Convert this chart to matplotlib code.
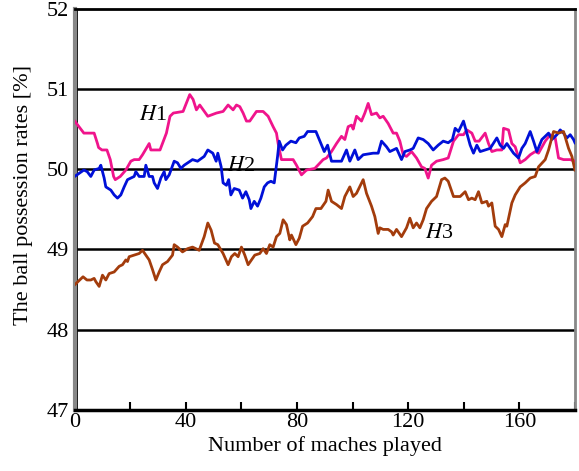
import matplotlib.pyplot as plt

plt.rcParams['font.family'] = 'Liberation Serif'
plt.rcParams['mathtext.fontset'] = 'stix'

# H1 (pink)
h1_x = [0, 3.3, 7, 8.2, 8.6, 9.8, 11.6, 12.8, 14, 14.6, 16.4, 18.4, 20.2, 21.4, 23.2, 24.4,
        26.8, 27.4, 30.7, 33, 34.3, 35.5, 39, 41.4, 42.6, 43.8, 45, 47.9, 51, 53.4, 55.2,
        57, 58.2, 59.4, 60.6, 61.8, 63, 65.4, 67.8, 69.6, 71.4, 72.6, 73.2, 74.4, 76.2,
        78.6, 79.8, 81.6, 83.4, 86.4, 89.4, 90.6, 92.4, 94.2, 96, 97.2, 98.4, 99.6, 100.2,
        101.4, 103.2, 104.4, 105.6, 106.8, 108.6, 109.8, 111, 112.8, 114.6, 115.8, 117,
        118.2, 119.4, 121.2, 123, 124.8, 126, 127.2, 128.4, 130.2, 132.6, 134.4, 136.3,
        138.1, 139.9, 141.1, 142.9, 144.1, 145.5, 147.7, 148.9, 150.1, 151.9, 153.7, 154.3,
        156.1, 157.3, 158.5, 160.3, 162.1, 163.9, 165.7, 166.9, 169.3, 171.1, 172.9, 174.1,
        175.9, 178.3, 180]
h1_y = [50.60, 50.45, 50.45, 50.32, 50.27, 50.24, 50.24, 50.12, 49.91, 49.87, 49.91, 49.99,
        50.10, 50.12, 50.12, 50.18, 50.32, 50.24, 50.24, 50.45, 50.66, 50.70, 50.72, 50.93,
        50.87, 50.74, 50.80, 50.66, 50.70, 50.72, 50.80, 50.74, 50.80, 50.78, 50.70, 50.60,
        50.60, 50.72, 50.72, 50.66, 50.53, 50.45, 50.32, 50.12, 50.12, 50.12, 50.05, 49.93,
        49.99, 50.01, 50.12, 50.14, 50.22, 50.32, 50.41, 50.37, 50.53, 50.55, 50.50, 50.66,
        50.60, 50.70, 50.82, 50.68, 50.70, 50.64, 50.66, 50.57, 50.45, 50.45, 50.35, 50.18,
        50.16, 50.22, 50.14, 50.03, 50.01, 49.89, 50.05, 50.10, 50.12, 50.14, 50.35, 50.43,
        50.43, 50.49, 50.45, 50.35, 50.35, 50.45, 50.32, 50.22, 50.24, 50.24, 50.51, 50.49,
        50.32, 50.28, 50.08, 50.12, 50.18, 50.22, 50.20, 50.35, 50.43, 50.39, 50.14, 50.12,
        50.12, 50.10]

# H2 (blue)
h2_x = [0, 3.3, 4.5, 5.8, 7, 8.8, 9.4, 10.6, 11.2, 13, 14.2, 15.4, 16.6, 17.8, 19, 20.2,
        21.4, 22, 23.2, 25, 25.6, 26.8, 28, 28.6, 29.8, 31, 32.2, 32.8, 34, 35.8, 37, 38.2,
        39.4, 42.4, 44.2, 46.6, 47.9, 49.7, 50.9, 51.5, 52.7, 53.4, 54.6, 55.4, 56.2, 57.4,
        59.2, 60.4, 61.6, 62.8, 63.4, 64.6, 65.8, 67, 68.2, 69.4, 70.6, 71.8, 73, 73.6, 74.8,
        76, 77.8, 79.6, 80.8, 82.6, 83.8, 86.8, 88, 89.8, 91, 92.4, 94.2, 96, 97.8, 99, 100.8,
        102, 103.8, 107.4, 109.2, 110.4, 112.2, 113.4, 115.8, 117.6, 118.8, 120.6, 121.8,
        123.6, 125.4, 127.2, 129, 130.8, 132.6, 134.4, 135.9, 136.9, 138.1, 139.9, 141.1,
        142.3, 143.5, 144.7, 145.9, 147.7, 149.5, 151.9, 153.1, 154.3, 155.5, 157.9, 159.7,
        160.9, 162.1, 163.9, 165.1, 166.3, 168.1, 170.5, 171.7, 173.5, 174.7, 175.9, 177.1,
        178.3, 179.5, 180]
h2_y = [49.91, 49.99, 49.97, 49.91, 49.99, 50.01, 50.05, 49.89, 49.78, 49.74, 49.68, 49.64,
        49.68, 49.78, 49.87, 49.89, 49.91, 49.97, 49.91, 49.91, 50.05, 49.91, 49.91, 49.83,
        49.76, 49.89, 49.97, 49.87, 49.93, 50.10, 50.08, 50.01, 50.05, 50.12, 50.10, 50.16,
        50.24, 50.20, 50.10, 50.20, 50.03, 49.83, 49.80, 49.87, 49.68, 49.76, 49.74, 49.64,
        49.72, 49.62, 49.51, 49.60, 49.54, 49.64, 49.78, 49.83, 49.85, 49.83, 50.16, 50.35,
        50.24, 50.30, 50.35, 50.33, 50.39, 50.41, 50.47, 50.47, 50.37, 50.22, 50.30, 50.10,
        50.10, 50.10, 50.24, 50.10, 50.24, 50.12, 50.18, 50.20, 50.20, 50.35, 50.28, 50.22,
        50.26, 50.12, 50.22, 50.24, 50.26, 50.39, 50.37, 50.32, 50.24, 50.30, 50.35, 50.33,
        50.37, 50.51, 50.47, 50.60, 50.45, 50.30, 50.20, 50.30, 50.22, 50.24, 50.26, 50.39,
        50.30, 50.26, 50.32, 50.20, 50.14, 50.26, 50.32, 50.47, 50.35, 50.22, 50.37, 50.45,
        50.37, 50.43, 50.49, 50.45, 50.39, 50.43, 50.37, 50.33]

# H3 (brown)
h3_x = [0, 3, 4.4, 5.8, 7, 7.6, 8.8, 10, 11.2, 12.4, 14.2, 16, 17.2, 18.4, 19, 19.6, 21.4,
        23.2, 24.4, 25.6, 26.8, 28, 29.2, 30.4, 31.6, 33.4, 35.2, 35.8, 37, 38.8, 40.6, 42.4,
        44.8, 46.6, 47.9, 49.1, 50.3, 51.5, 53.4, 55.2, 56.4, 57.6, 58.8, 60, 61.2, 62.4,
        63.6, 64.8, 66.6, 67.8, 69, 70.2, 71.4, 72.6, 73.8, 75, 76.2, 77.4, 78, 79.6, 80.8,
        82, 83.8, 85.6, 86.8, 88.6, 90.4, 91.2, 92.4, 94.2, 96, 97.2, 99, 100.2, 101.4, 103.8,
        105, 106.8, 108, 109.2, 109.8, 111, 112.8, 114, 114.6, 115.8, 117.6, 119.4, 120.6,
        121.8, 123, 124.2, 125.4, 126.6, 128.4, 130.2, 132, 133.2, 134.4, 136.3, 138.7,
        140.5, 141.7, 142.9, 144.1, 145.3, 146.5, 148.3, 148.9, 150.1, 151.3, 152.5, 153.7,
        154.9, 155.5, 157.3, 158.5, 160.3, 162.1, 163.9, 165.7, 166.9, 169.3, 170.5, 172.3,
        174.1, 175.9, 177.7, 178.9, 180]
h3_y = [48.56, 48.66, 48.62, 48.62, 48.64, 48.60, 48.54, 48.68, 48.62, 48.70, 48.72, 48.79,
        48.81, 48.87, 48.85, 48.91, 48.93, 48.95, 48.99, 48.93, 48.87, 48.75, 48.62, 48.72,
        48.81, 48.85, 48.93, 49.06, 49.03, 48.97, 49.01, 49.03, 48.99, 49.16, 49.33, 49.24,
        49.08, 49.06, 48.95, 48.81, 48.91, 48.95, 48.91, 49.03, 48.93, 48.81, 48.87, 48.93,
        48.95, 49.01, 48.95, 49.06, 49.03, 49.16, 49.20, 49.37, 49.31, 49.12, 49.18, 49.06,
        49.14, 49.29, 49.33, 49.41, 49.51, 49.51, 49.60, 49.74, 49.60, 49.56, 49.51, 49.66,
        49.78, 49.66, 49.70, 49.87, 49.70, 49.54, 49.41, 49.20, 49.27, 49.25, 49.25, 49.22,
        49.18, 49.25, 49.16, 49.27, 49.39, 49.27, 49.33, 49.27, 49.37, 49.51, 49.60, 49.66,
        49.87, 49.89, 49.85, 49.66, 49.66, 49.72, 49.62, 49.64, 49.62, 49.72, 49.58, 49.60,
        49.54, 49.58, 49.29, 49.25, 49.16, 49.31, 49.29, 49.58, 49.68, 49.78, 49.83, 49.89,
        49.91, 50.03, 50.12, 50.24, 50.47, 50.45, 50.47, 50.26, 50.16, 49.99]

labels = ['$H$1', '$H$2', '$H$3']
label_pos = [(28, 50.67), (60, 50.03), (131, 49.2)]
colors = ['#f0148c', '#0010d8', '#a33c0c']

fig = plt.figure(figsize=(5.79, 4.71), dpi=100)
ax = fig.add_axes([0.129, 0.1295, 0.864, 0.852])

for gy in [48, 49, 50, 51]:
    ax.axhline(gy, color='black', lw=1.8, zorder=1)

for xs, ys, c in zip([h1_x, h2_x, h3_x], [h1_y, h2_y, h3_y], colors):
    ax.plot(xs, ys, color=c, lw=2, zorder=3)

for lab, (lx, ly) in zip(labels, label_pos):
    ax.text(lx, ly, lab, fontsize=16, ha='center', va='center', zorder=4)

ax.set_xlim(0, 180)
ax.set_ylim(47, 52)
ax.set_xticks([0, 40, 80, 120, 160])
ax.set_xticks(range(20, 181, 40), minor=True)
ax.set_yticks([47, 48, 49, 50, 51, 52])
ax.tick_params(axis='x', which='both', direction='in', length=6, width=1.5, labelsize=16, pad=2)
ax.tick_params(axis='y', length=0, labelsize=16, pad=4)

ax.spines['left'].set_color('#888888')
ax.spines['right'].set_color('#888888')
ax.spines['left'].set_linewidth(3)
ax.spines['right'].set_linewidth(2)
ax.spines['top'].set_linewidth(2)
ax.spines['bottom'].set_linewidth(2.5)
ax.axvline(0.4, color='black', lw=2, zorder=2)

ax.set_xlabel('Number of maches played', fontsize=16, labelpad=3)
ax.set_ylabel('The ball possession rates [%]', fontsize=16)
ax.yaxis.set_label_coords(-0.083, 0.536)

fig.savefig('out.png', dpi=100)
